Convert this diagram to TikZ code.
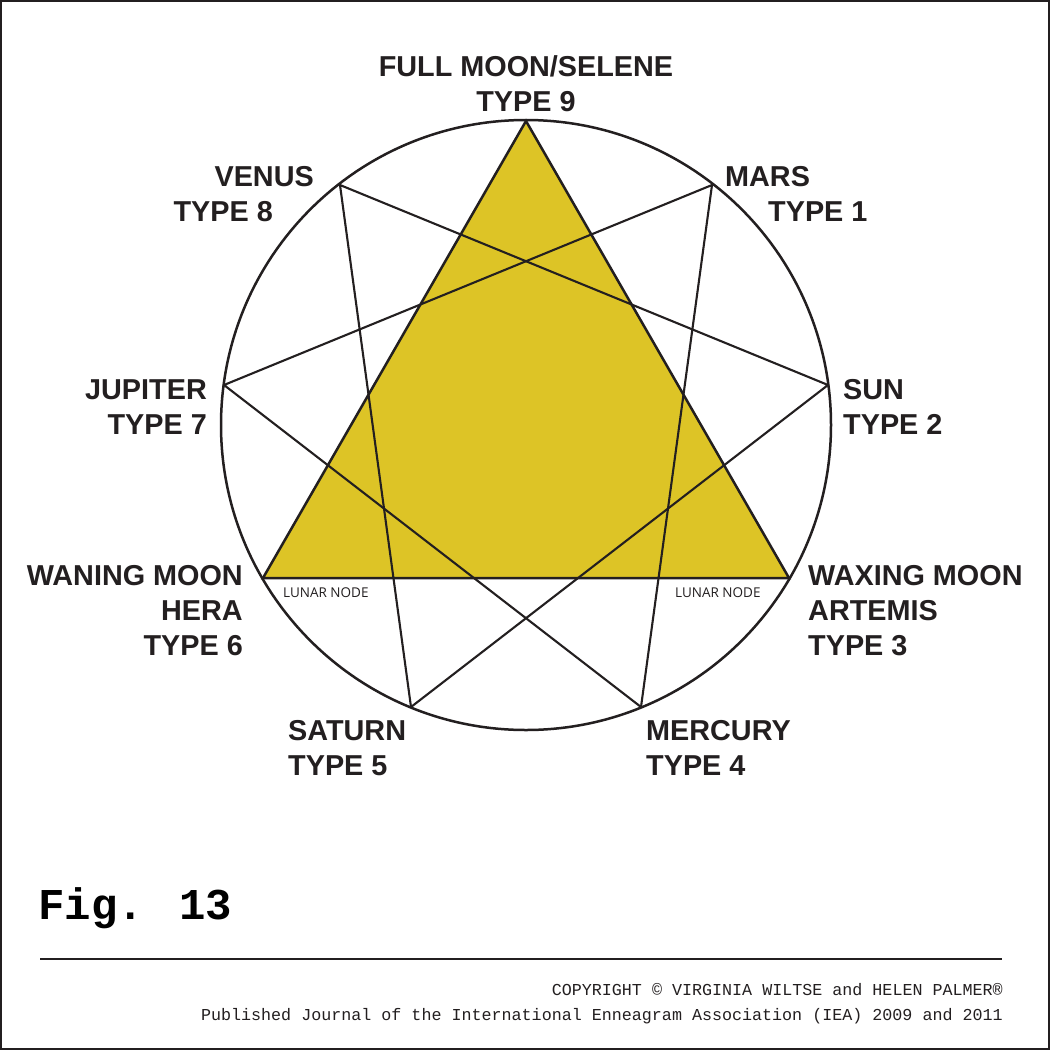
\documentclass[tikz,border=0pt]{standalone}
\usepackage{fontspec}
\setmainfont{Liberation Sans}
\newfontfamily\nodefont{Open Sans}
\newfontfamily\courfont{Liberation Mono}
\definecolor{ink}{RGB}{35,31,32}
\definecolor{moon}{RGB}{221,196,38}
\begin{document}
\begin{tikzpicture}[x=1pt,y=-1pt,
  lbl/.style={inner sep=0pt,text=ink,font=\fontsize{28.8}{34}\selectfont\bfseries},
  lnode/.style={inner sep=0pt,text=ink,font=\nodefont\fontsize{13.5}{16}\selectfont},
  foot/.style={inner sep=0pt,text=ink,font=\courfont\fontsize{16.7}{20}\selectfont},
  figlbl/.style={inner sep=0pt,text=black,font=\courfont\bfseries\fontsize{44}{50}\selectfont},
  hexline/.style={draw=ink,line width=2.1pt,line join=round},
  ring/.style={draw=ink,line width=2.5pt}]
\useasboundingbox (0,0) rectangle (1050,1050);
\fill[white] (0,0) rectangle (1050,1050);
\draw[ink,line width=2pt] (1,1) rectangle (1049,1049);
% points
\coordinate (c) at (526,425);
\coordinate (p9) at (526,121);
\coordinate (p1) at (712,185);
\coordinate (p2) at (828,385);
\coordinate (p3) at (789,578);
\coordinate (p4) at (641,707);
\coordinate (p5) at (411,707);
\coordinate (p6) at (263,578);
\coordinate (p7) at (224,385);
\coordinate (p8) at (340,185);
% triangle
\filldraw[fill=moon,draw=ink,line width=2.5pt,line join=miter] (p9) -- (p3) -- (p6) -- cycle;
% inner lines
\draw[hexline] (p8) -- (p2) -- (p5) -- cycle;
\draw[hexline] (p1) -- (p7) -- (p4) -- cycle;
% circle
\draw[ring] (c) circle[radius=305];
% labels
\node[lbl,anchor=base] (t9a) at (526,76) {FULL MOON/SELENE};
\node[lbl,anchor=base] (t9b) at (526,111) {TYPE 9};
\node[lbl,anchor=base east] (t8a) at (314,186) {VENUS};
\node[lbl,anchor=base east] (t8b) at (273,221) {TYPE 8};
\node[lbl,anchor=base west] (t1a) at (725,186) {MARS};
\node[lbl,anchor=base west] (t1b) at (768,221) {TYPE 1};
\node[lbl,anchor=base east] (t7a) at (207,399) {JUPITER};
\node[lbl,anchor=base east] (t7b) at (207,434) {TYPE 7};
\node[lbl,anchor=base west] (t2a) at (843,399) {SUN};
\node[lbl,anchor=base west] (t2b) at (843,434) {TYPE 2};
\node[lbl,anchor=base east] (t6a) at (243,585) {WANING MOON};
\node[lbl,anchor=base east] (t6b) at (243,620) {HERA};
\node[lbl,anchor=base east] (t6c) at (243,655) {TYPE 6};
\node[lbl,anchor=base west] (t3a) at (808,585) {WAXING MOON};
\node[lbl,anchor=base west] (t3b) at (808,620) {ARTEMIS};
\node[lbl,anchor=base west] (t3c) at (808,655) {TYPE 3};
\node[lbl,anchor=base west] (t5a) at (288,740) {SATURN};
\node[lbl,anchor=base west] (t5b) at (288,775) {TYPE 5};
\node[lbl,anchor=base west] (t4a) at (646,740) {MERCURY};
\node[lbl,anchor=base west] (t4b) at (646,775) {TYPE 4};
\node[lnode,anchor=base west] (ln1) at (283,597) {LUNAR NODE};
\node[lnode,anchor=base west] (ln2) at (675,597) {LUNAR NODE};
% footer
\node[figlbl,anchor=base west] (fig) at (38,919) {Fig. 13};
\coordinate (r1) at (40,959);
\coordinate (r2) at (1002,959);
\draw[ink,line width=1.2pt] (r1) -- (r2);
\node[foot,anchor=base east] (cp1) at (1003,995) {COPYRIGHT © VIRGINIA WILTSE and HELEN PALMER®};
\node[foot,anchor=base east] (cp2) at (1003,1020) {Published Journal of the International Enneagram Association (IEA) 2009 and 2011};
\end{tikzpicture}
\end{document}
